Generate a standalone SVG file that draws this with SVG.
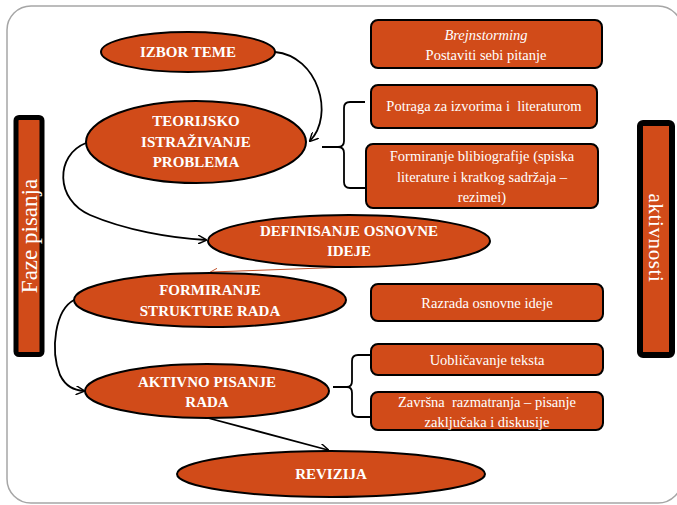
<svg xmlns="http://www.w3.org/2000/svg" width="677" height="505" viewBox="0 0 677 505">
<defs>
<style>
.node{fill:#D14B19;stroke:#000;stroke-width:2}
.bar{fill:#D14B19;stroke:#000}
.t{fill:#fff;text-anchor:middle;dominant-baseline:central}
.b{font-weight:bold;font-size:15px}
.r{font-size:14.5px}
.c{fill:none;stroke:#000;stroke-width:1.8}
</style>
<marker id="ar" viewBox="0 0 10 10" refX="9" refY="5" markerWidth="9" markerHeight="9" orient="auto" markerUnits="userSpaceOnUse">
<path d="M0,0 L10,5 L0,10" fill="none" stroke="#000" stroke-width="1.6"/>
</marker>
<marker id="ar2" viewBox="0 0 10 10" refX="9" refY="5" markerWidth="7" markerHeight="7" orient="auto" markerUnits="userSpaceOnUse">
<path d="M0,0 L10,5 L0,10" fill="none" stroke="#C0502A" stroke-width="1.4"/>
</marker>
</defs>
<rect x="0" y="0" width="677" height="505" fill="#fff"/>
<rect x="7" y="6" width="675" height="497" rx="24" fill="none" stroke="#a6a6a6" stroke-width="1.5"/>
<g font-family="'Liberation Serif', 'DejaVu Serif', 'Times New Roman', serif">
<g id="bar-left">
<rect class="bar" x="16" y="117.5" width="26" height="237" rx="3" stroke-width="5"/>
<text class="t" x="0" y="0" font-size="23" transform="translate(29,236) rotate(-90)">Faze pisanja</text>
</g>
<g id="bar-right">
<rect class="bar" x="640" y="123" width="32" height="232" rx="3" stroke-width="6"/>
<text class="t" x="0" y="0" font-size="21" letter-spacing="0.6" transform="translate(656,238) rotate(90)">aktivnosti</text>
</g>

<g id="connectors">
<path class="c" d="M275,52 C318,56 335,115 310,141" marker-end="url(#ar)"/>
<path class="c" d="M86,143 C55,155 55,200 90,215 C125,230 170,238 206,240" marker-end="url(#ar)"/>
<path d="M350,267 L211,272" fill="none" stroke="#C0502A" stroke-width="1" marker-end="url(#ar2)"/>
<path class="c" d="M74,300 C55,310 50,350 60,375 C66,387 74,390 84,391" marker-end="url(#ar)"/>
<path class="c" d="M208,418 L328,450" marker-end="url(#ar)"/>
<path class="c" d="M322,147 L338,147 Q344,147 344,141 L344,108 Q344,102 350,102 L365,102"/>
<path class="c" d="M338,147 Q344,147 344,153 L344,182 Q344,188 350,188 L366,188"/>
<path class="c" d="M333,387 L347,387 Q352,387 352,381 L352,361 Q352,355 358,355 L371,355"/>
<path class="c" d="M347,387 Q352,387 352,393 L352,411 Q352,417 358,417 L371,417"/>
</g>

<g id="izbor-teme">
<ellipse class="node" cx="188" cy="52" rx="87" ry="20"/>
<text class="t b" x="188" y="52">IZBOR TEME</text>
</g>
<g id="teorijsko">
<ellipse class="node" cx="196" cy="142" rx="110" ry="41"/>
<text class="t b" x="196" y="121">TEORIJSKO</text>
<text class="t b" x="196" y="142">ISTRAŽIVANJE</text>
<text class="t b" x="196" y="162">PROBLEMA</text>
</g>
<g id="definisanje">
<ellipse class="node" cx="349" cy="241" rx="141" ry="26"/>
<text class="t b" x="349" y="231">DEFINISANJE OSNOVNE</text>
<text class="t b" x="349" y="251">IDEJE</text>
</g>
<g id="formiranje">
<ellipse class="node" cx="210" cy="300" rx="136" ry="27"/>
<text class="t b" x="210" y="290">FORMIRANJE</text>
<text class="t b" x="210" y="311">STRUKTURE RADA</text>
</g>
<g id="aktivno">
<ellipse class="node" cx="207" cy="391" rx="122" ry="27"/>
<text class="t b" x="207" y="382">AKTIVNO PISANJE</text>
<text class="t b" x="207" y="402">RADA</text>
</g>
<g id="revizija">
<ellipse class="node" cx="331" cy="474" rx="154" ry="23"/>
<text class="t b" x="331" y="474">REVIZIJA</text>
</g>

<g id="brejnstorming">
<rect class="node" x="371" y="20" width="231" height="48" rx="7"/>
<text class="t r" x="486" y="35" font-style="italic">Brejnstorming</text>
<text class="t r" x="486" y="55">Postaviti sebi pitanje</text>
</g>
<g id="potraga">
<rect class="node" x="371" y="85" width="226" height="43" rx="7"/>
<text class="t r" x="484" y="106" xml:space="preserve">Potraga za izvorima i  literaturom</text>
</g>
<g id="bibliografija">
<rect class="node" x="366" y="144" width="232" height="64" rx="7"/>
<text class="t r" x="482" y="156">Formiranje blibiografije (spiska</text>
<text class="t r" x="482" y="177">literature i kratkog sadržaja –</text>
<text class="t r" x="482" y="197">rezimei)</text>
</g>
<g id="razrada">
<rect class="node" x="371" y="284" width="232" height="37" rx="7"/>
<text class="t r" x="487" y="303">Razrada osnovne ideje</text>
</g>
<g id="uoblicavanje">
<rect class="node" x="371" y="344" width="232" height="31" rx="7"/>
<text class="t r" x="487" y="360">Uobličavanje teksta</text>
</g>
<g id="zavrsna">
<rect class="node" x="371" y="392" width="232" height="38" rx="7"/>
<text class="t r" x="487" y="402" xml:space="preserve">Završna  razmatranja – pisanje</text>
<text class="t r" x="487" y="422">zaključaka i diskusije</text>
</g>
</g>
</svg>
